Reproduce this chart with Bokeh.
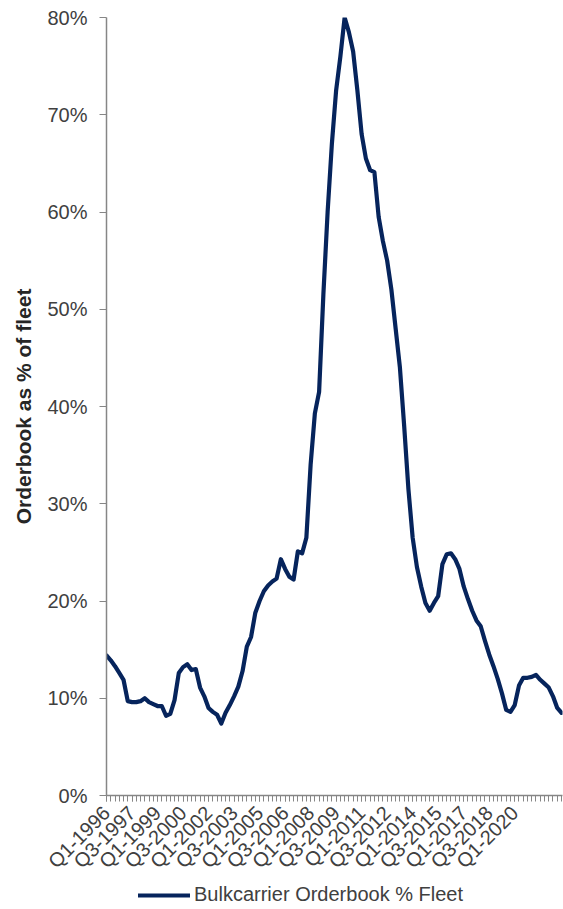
import math
from bokeh.plotting import figure
from bokeh.layouts import column
from bokeh.models import (FixedTicker, PrintfTickFormatter, Legend, LegendItem,
                          Range1d, ColumnDataSource)
from bokeh.embed import file_html
from bokeh.resources import INLINE

# Quarterly categories, Q1-1996 onwards
first_year = 1996
orderbook_pct = [
    14.4, 13.9, 13.3, 12.6, 11.9, 9.7, 9.6, 9.6, 9.7, 10.0,
    9.6, 9.4, 9.2, 9.2, 8.2, 8.4, 9.8, 12.6, 13.2, 13.5,
    12.9, 13.0, 11.1, 10.2, 9.0, 8.6, 8.3, 7.4, 8.5, 9.3,
    10.2, 11.2, 12.8, 15.3, 16.3, 18.8, 20.0, 21.0, 21.6, 22.0,
    22.3, 24.3, 23.3, 22.5, 22.2, 25.1, 24.9, 26.5, 34.0, 39.3,
    41.5, 51.5, 60.0, 67.0, 72.5, 76.0, 80.0, 78.5, 76.5, 72.5,
    68.0, 65.5, 64.3, 64.1, 59.5, 57.0, 55.0, 52.0, 48.0, 44.0,
    38.0, 31.5, 26.5, 23.5, 21.5, 19.8, 19.0, 19.8, 20.5, 23.8,
    24.8, 24.9, 24.3, 23.3, 21.5, 20.2, 19.0, 18.0, 17.4, 15.9,
    14.5, 13.3, 12.0, 10.5, 8.8, 8.6, 9.3, 11.3, 12.1, 12.1,
    12.2, 12.4, 11.9, 11.5, 11.1, 10.2, 9.0, 8.5,
]
quarters = [f"Q{i % 4 + 1}-{first_year + i // 4}" for i in range(len(orderbook_pct))]
label_step = 6
tick_labels = ["Q1-1996", "Q3-1997", "Q1-1999", "Q3-2000", "Q1-2002", "Q3-2003",
               "Q1-2005", "Q3-2006", "Q1-2008", "Q3-2009", "Q1-2011", "Q3-2012",
               "Q1-2014", "Q3-2015", "Q1-2017", "Q3-2018", "Q1-2020"]
y_ticks = [0, 10, 20, 30, 40, 50, 60, 70, 80]
series_name = "Bulkcarrier Orderbook % Fleet"

LINE = "#06245C"
AXIS = "#868686"
TEXT = "#404040"
FONT = "Liberation Sans"
LINE_W = 4.2

n = len(orderbook_pct)
src = ColumnDataSource(dict(x=list(range(n)), y=orderbook_pct, q=quarters))

p = figure(width=563, height=883, output_backend="svg", toolbar_location=None,
           x_range=Range1d(0, (n - 1) * 456 / 455), y_range=Range1d(0, 80),
           min_border_left=106, min_border_right=1, min_border_top=17,
           min_border_bottom=88, outline_line_color=None,
           background_fill_color="white", border_fill_color="white")
p.xgrid.visible = False
p.ygrid.visible = False

p.line("x", "y", source=src, line_color=LINE, line_width=LINE_W,
       line_join="round", line_cap="round")

# x axis: a tick per quarter, a label every sixth quarter
tick_pos = [i * label_step for i in range(len(tick_labels))]
xa = p.xaxis[0]
xa.ticker = FixedTicker(ticks=tick_pos, minor_ticks=list(range(n)))
xa.major_label_overrides = {pos: lab for pos, lab in zip(tick_pos, tick_labels)}
xa.major_label_orientation = math.pi / 4
xa.major_label_text_font = FONT
xa.major_label_text_font_size = "20px"
xa.major_label_text_color = TEXT
xa.major_label_standoff = 8
xa.axis_line_color = AXIS
xa.axis_line_width = 1.5
xa.major_tick_line_color = AXIS
xa.minor_tick_line_color = AXIS
xa.major_tick_in = 0
xa.major_tick_out = 6
xa.minor_tick_in = 0
xa.minor_tick_out = 6

# y axis in percent
ya = p.yaxis[0]
ya.ticker = FixedTicker(ticks=y_ticks, minor_ticks=[])
ya.formatter = PrintfTickFormatter(format="%d%%")
ya.major_label_text_font = FONT
ya.major_label_text_font_size = "20px"
ya.major_label_text_color = TEXT
ya.major_label_standoff = 12
ya.axis_line_color = AXIS
ya.axis_line_width = 1.5
ya.major_tick_line_color = AXIS
ya.major_tick_in = 0
ya.major_tick_out = 7
ya.minor_tick_line_color = None
ya.axis_label = "Orderbook as % of fleet"
ya.axis_label_text_font = FONT
ya.axis_label_text_font_size = "21px"
ya.axis_label_text_font_style = "bold"
ya.axis_label_text_color = "#262626"
ya.axis_label_standoff = 9

# legend strip underneath the chart (its frame lines up with the chart's frame)
leg = figure(width=563, height=26, output_backend="svg", toolbar_location=None,
             x_range=Range1d(0, 1), y_range=Range1d(0, 1),
             x_axis_location=None, y_axis_location=None,
             min_border_left=0, min_border_right=0, min_border_top=0,
             min_border_bottom=0, outline_line_color=None,
             background_fill_color="white", border_fill_color="white")
leg.xgrid.visible = False
leg.ygrid.visible = False
swatch = leg.line(x=[0], y=[0], line_color=LINE, line_width=LINE_W, line_cap="round")
legend = Legend(items=[LegendItem(label=series_name, renderers=[swatch])],
                location=(32, 3), orientation="horizontal",
                border_line_color=None, background_fill_alpha=0,
                label_text_font=FONT, label_text_font_size="20px",
                label_text_color=TEXT, glyph_width=52, glyph_height=16,
                label_standoff=4, padding=2, margin=0)
leg.add_layout(legend, "center")

layout = column(p, leg, spacing=0)
open("out.html", "w").write(file_html(layout, INLINE))
